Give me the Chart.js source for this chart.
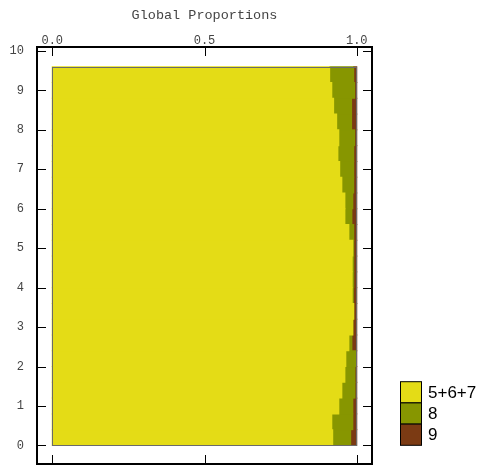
<!DOCTYPE html>
<html>
<head>
<meta charset="utf-8">
<script src="https://cdn.jsdelivr.net/npm/chart.js@4/dist/chart.umd.min.js"></script>
<style>
  html, body { margin: 0; padding: 0; background: #ffffff; }
  #wrap { width: 479px; height: 466px; position: relative; }
</style>
</head>
<body>
<div id="wrap"><canvas id="c" width="479" height="466"></canvas></div>
<script>
// Row midpoints (bins of 0.4 along the vertical axis)
const rowMid = [0.2, 0.6, 1.0, 1.4, 1.8, 2.2, 2.6, 3.0, 3.4, 3.8, 4.2, 4.6,
                5.0, 5.4, 5.8, 6.2, 6.6, 7.0, 7.4, 7.8, 8.2, 8.6, 9.0, 9.4];

// Share of each class per row
const share567 = [0.921, 0.918, 0.941, 0.951, 0.961, 0.964, 0.974, 0.987, 0.990, 0.985, 0.985, 0.985,
                  0.987, 0.974, 0.961, 0.961, 0.951, 0.944, 0.938, 0.941, 0.934, 0.924, 0.918, 0.911];
const share8   = [0.059, 0.069, 0.046, 0.043, 0.033, 0.033, 0.010, 0.000, 0.000, 0.004, 0.005, 0.005,
                  0.003, 0.016, 0.023, 0.026, 0.039, 0.046, 0.052, 0.052, 0.049, 0.059, 0.075, 0.079];
const share9   = [0.020, 0.013, 0.013, 0.006, 0.006, 0.003, 0.016, 0.013, 0.010, 0.011, 0.010, 0.010,
                  0.010, 0.010, 0.016, 0.013, 0.010, 0.010, 0.010, 0.007, 0.017, 0.017, 0.007, 0.010];

const seriesNames = ['5+6+7', '8', '9'];
const xTickValues = [0, 0.5, 1];
const xTickLabels = ['0.0', '0.5', '1.0'];
const yTickValues = [0, 1, 2, 3, 4, 5, 6, 7, 8, 9, 10];
const yTickLabels = ['0', '1', '2', '3', '4', '5', '6', '7', '8', '9', '10'];
const titleText = 'Global Proportions';

const colors = ['#e4dc16', '#879600', '#7b3a13'];

function toPoints(vals) {
  return vals.map((v, i) => ({ x: v, y: rowMid[i] }));
}

const datasets = [share567, share8, share9].map((vals, k) => ({
  label: seriesNames[k],
  data: toPoints(vals),
  backgroundColor: colors[k],
  borderWidth: 0,
  inflateAmount: 0.5,
  barPercentage: 1,
  categoryPercentage: 1,
  stack: 'all'
}));

const MONO = '"Liberation Mono", "DejaVu Sans Mono", monospace';
const SANS = '"Liberation Sans", Arial, sans-serif';

// Frame, inward ticks, labels, title and legend
const decorations = {
  id: 'decorations',
  afterDatasetsDraw(chart) {
    const ctx = chart.ctx;
    const xs = chart.scales.x, ys = chart.scales.y;
    const a = chart.chartArea;
    const half = (rowMid[1] - rowMid[0]) / 2;

    // outline of the stacked block
    const bx0 = xs.getPixelForValue(0), bx1 = xs.getPixelForValue(1);
    const by0 = ys.getPixelForValue(rowMid[0] - half);
    const by1 = ys.getPixelForValue(rowMid[rowMid.length - 1] + half);
    ctx.save();
    ctx.strokeStyle = '#6a6a6a';
    ctx.lineWidth = 1;
    ctx.strokeRect(Math.round(bx0) + 0.5, Math.round(by1) + 0.5,
                   Math.round(bx1 - bx0) - 1, Math.round(by0 - by1) - 1);

    // ticks on all four sides pointing inward
    const tl = 9;
    ctx.strokeStyle = '#000';
    ctx.lineWidth = 1;
    ctx.beginPath();
    yTickValues.forEach(v => {
      const y = Math.round(ys.getPixelForValue(v)) + 0.5;
      ctx.moveTo(a.left, y); ctx.lineTo(a.left + tl, y);
      ctx.moveTo(a.right, y); ctx.lineTo(a.right - tl, y);
    });
    xTickValues.forEach(v => {
      const x = Math.round(xs.getPixelForValue(v)) + 0.5;
      ctx.moveTo(x, a.top); ctx.lineTo(x, a.top + tl);
      ctx.moveTo(x, a.bottom); ctx.lineTo(x, a.bottom - tl);
    });
    ctx.stroke();

    // frame
    ctx.lineWidth = 2;
    ctx.strokeRect(a.left, a.top, a.right - a.left, a.bottom - a.top);

    // tick labels
    ctx.fillStyle = '#444';
    ctx.font = '12px ' + MONO;
    ctx.textAlign = 'right';
    ctx.textBaseline = 'middle';
    yTickValues.forEach((v, i) => {
      ctx.fillText(yTickLabels[i], a.left - 13, ys.getPixelForValue(v));
    });
    ctx.textAlign = 'center';
    ctx.textBaseline = 'alphabetic';
    xTickValues.forEach((v, i) => {
      ctx.fillText(xTickLabels[i], xs.getPixelForValue(v), a.top - 3);
    });

    // title
    ctx.font = '13.5px ' + MONO;
    ctx.textBaseline = 'middle';
    ctx.fillText(titleText, (a.left + a.right) / 2, 15);

    // legend
    const lx = 400, lw = 22, lh = 21.2, ly0 = 381.7;
    chart.data.datasets.forEach((ds, k) => {
      const y = ly0 + k * lh;
      ctx.fillStyle = ds.backgroundColor;
      ctx.fillRect(lx, y, lw, lh);
      ctx.strokeStyle = '#000';
      ctx.lineWidth = 1;
      ctx.strokeRect(lx + 0.5, y, lw - 1, lh);
      ctx.fillStyle = '#000';
      ctx.font = '17px ' + SANS;
      ctx.textAlign = 'left';
      ctx.textBaseline = 'middle';
      ctx.fillText(ds.label, 428, y + lh / 2 + 1);
    });
    ctx.restore();
  }
};

new Chart(document.getElementById('c'), {
  type: 'bar',
  data: { datasets },
  options: {
    indexAxis: 'y',
    responsive: false,
    animation: false,
    devicePixelRatio: 1,
    layout: { padding: { left: 37, top: 47, right: 107, bottom: 2 } },
    scales: {
      x: { type: 'linear', min: -0.05, max: 1.05, stacked: true, offset: false, display: false },
      y: { type: 'linear', min: -0.47, max: 10.1, offset: false, display: false }
    },
    plugins: {
      legend: { display: false },
      title: { display: false },
      tooltip: { enabled: false }
    }
  },
  plugins: [decorations]
});
</script>
</body>
</html>
